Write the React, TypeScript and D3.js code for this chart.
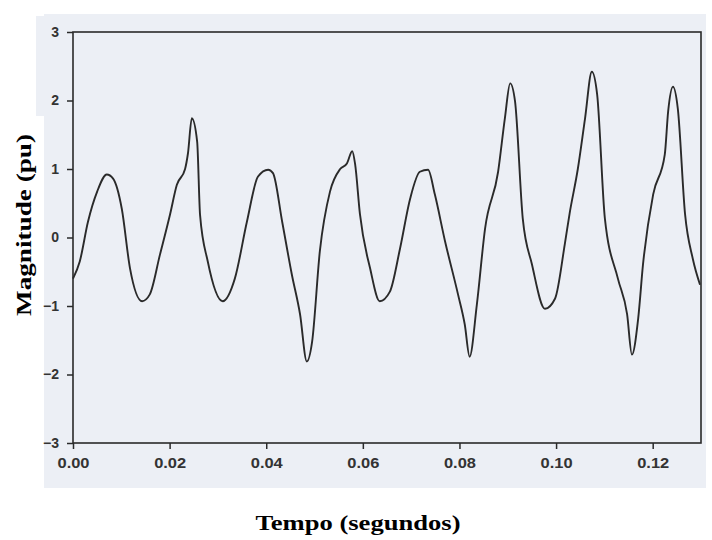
import React, { useRef, useEffect } from "react";
import * as d3 from "d3";

// waveform (time in s, magnitude in pu)
const timeS = [
  0.0, 0.0014, 0.0031, 0.005, 0.007, 0.0083, 0.0101, 0.0118, 0.0143, 0.0159,
  0.018, 0.0201, 0.0215, 0.0232, 0.0238, 0.0246, 0.0257, 0.0263, 0.0279, 0.031,
  0.0335, 0.036, 0.0383, 0.0404, 0.0414, 0.0433, 0.0453, 0.047, 0.0484, 0.0495,
  0.0511, 0.0532, 0.0553, 0.0567, 0.0578, 0.0584, 0.0594, 0.0615, 0.0635, 0.0656,
  0.0677, 0.0698, 0.0718, 0.0735, 0.0749, 0.077, 0.0797, 0.0811, 0.0821, 0.0836,
  0.0853, 0.088, 0.0894, 0.0905, 0.0915, 0.0931, 0.095, 0.0977, 0.0998, 0.1018,
  0.1028, 0.1045, 0.106, 0.1074, 0.1085, 0.1101, 0.1128, 0.1147, 0.1157, 0.117,
  0.118, 0.1201, 0.1225, 0.1232, 0.1242, 0.1252, 0.1267, 0.1283, 0.1298,
];
const magnitudePu = [
  -0.6, -0.35, 0.23, 0.67, 0.92, 0.86, 0.42, -0.45, -0.93, -0.83,
  -0.25, 0.34, 0.77, 1.0, 1.23, 1.74, 1.4, 0.33, -0.35, -0.93,
  -0.6, 0.23, 0.89, 0.99, 0.94, 0.23, -0.54, -1.12, -1.81, -1.52,
  -0.2, 0.67, 1.0, 1.08, 1.26, 1.07, 0.34, -0.45, -0.93, -0.79,
  -0.16, 0.57, 0.96, 0.99, 0.63, -0.05, -0.83, -1.27, -1.74, -0.98,
  0.13, 0.96, 1.74, 2.25, 1.99, 0.28, -0.39, -1.04, -0.89, -0.1,
  0.35, 1.0, 1.74, 2.42, 2.09, 0.28, -0.6, -1.12, -1.71, -1.18,
  -0.39, 0.63, 1.21, 1.84, 2.2, 1.88, 0.34, -0.31, -0.69,
];
const xTicks = [0, 0.02, 0.04, 0.06, 0.08, 0.1, 0.12];
const yTicks = [-3, -2, -1, 0, 1, 2, 3];

const App = () => {
  const ref = useRef<SVGSVGElement>(null);

  useEffect(() => {
    const svg = d3.select(ref.current);
    svg.selectAll("*").remove();

    const x = d3.scaleLinear().domain([0, 0.13]).range([73, 701]);
    const y = d3.scaleLinear().domain([-3, 3]).range([443, 32]);

    // scanned page background
    svg.append("rect").attr("x", 36).attr("y", 16).attr("width", 12).attr("height", 100).attr("fill", "#eceff5");
    svg.append("rect").attr("x", 44).attr("y", 14).attr("width", 662).attr("height", 474).attr("fill", "#eceff5");

    const ink = "#2a2a2a";

    svg.append("rect")
      .attr("x", x(0)).attr("y", y(3))
      .attr("width", x(0.13) - x(0)).attr("height", y(-3) - y(3))
      .attr("fill", "none").attr("stroke", ink).attr("stroke-width", 1.6);

    const yAxis = svg.append("g")
      .attr("transform", `translate(${x(0)},0)`)
      .call(d3.axisLeft(y).tickValues(yTicks).tickSize(6).tickPadding(8).tickFormat(d3.format("d")));
    yAxis.select(".domain").remove();

    const xAxis = svg.append("g")
      .attr("transform", `translate(0,${y(-3)})`)
      .call(d3.axisBottom(x).tickValues(xTicks).tickSize(6).tickPadding(9).tickFormat(d3.format(".2f")));
    xAxis.select(".domain").remove();

    svg.selectAll(".tick line").attr("stroke", ink).attr("stroke-width", 1.5);
    svg.selectAll(".tick text")
      .attr("fill", "#333")
      .style("font-family", "Arial, 'Liberation Sans', sans-serif")
      .style("font-weight", "bold")
      .style("font-size", "14px");
    xAxis.selectAll(".tick text").attr("textLength", 32).attr("lengthAdjust", "spacingAndGlyphs");

    const line = d3.line<number>()
      .x((_, i) => x(timeS[i]))
      .y((d) => y(d))
      .curve(d3.curveMonotoneX);

    svg.append("path")
      .datum(magnitudePu)
      .attr("fill", "none")
      .attr("stroke", ink)
      .attr("stroke-width", 1.9)
      .attr("stroke-linejoin", "round")
      .attr("d", line);

    svg.append("text")
      .attr("x", 358).attr("y", 530)
      .attr("text-anchor", "middle")
      .attr("textLength", 205).attr("lengthAdjust", "spacingAndGlyphs")
      .style("font-family", "'Times New Roman', 'Liberation Serif', serif")
      .style("font-weight", "bold").style("font-size", "21px")
      .text("Tempo (segundos)");

    svg.append("text")
      .attr("transform", "translate(31,225) rotate(-90)")
      .attr("text-anchor", "middle")
      .attr("textLength", 182).attr("lengthAdjust", "spacingAndGlyphs")
      .style("font-family", "'Times New Roman', 'Liberation Serif', serif")
      .style("font-weight", "bold").style("font-size", "21px")
      .text("Magnitude (pu)");
  }, []);

  return (
    <svg
      ref={ref}
      width={712}
      height={540}
      style={{ position: "absolute", left: 0, top: 0, display: "block", background: "#fff" }}
    />
  );
};

export default App;
